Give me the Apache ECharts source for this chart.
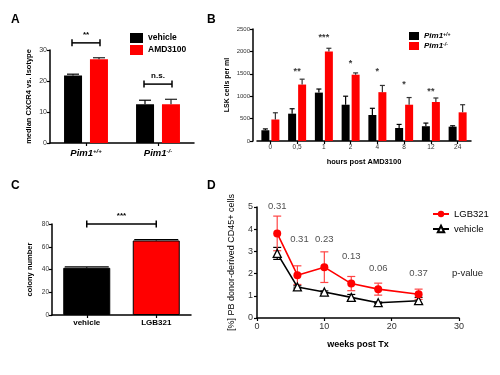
<!DOCTYPE html>
<html>
<head>
<meta charset="utf-8">
<script src="https://cdn.jsdelivr.net/npm/echarts@6/dist/echarts.min.js"></script>
<style>
  html, body { margin: 0; padding: 0; background: #fff; }
  #main { width: 500px; height: 375px; }
</style>
</head>
<body>
<div id="main"></div>
<script>
// A: CXCR4 surface level
const genotypes = ['Pim1+/+', 'Pim1-/-'];
const aVehicle = [21.8, 12.5];
const aVehicleErr = [0.4, 1.3];
const aAmd = [27.0, 12.5];
const aAmdErr = [0.5, 1.6];
const aBracketY = [32.3, 19];
const aBracketText = ['**', 'n.s.'];

// B: LSK mobilisation
const hours = ['0', '0,5', '1', '2', '4', '8', '12', '24'];
const bWild = [240, 610, 1080, 810, 580, 290, 330, 320];
const bWildErr = [30, 110, 80, 190, 150, 80, 70, 20];
const bKo = [480, 1260, 2000, 1480, 1090, 810, 870, 640];
const bKoErr = [150, 120, 70, 40, 150, 160, 90, 170];
const bStars = ['', '**', '***', '*', '*', '*', '**', ''];
const bStarY = [0, 1560, 2300, 1730, 1540, 1250, 1110, 0];

// C: colonies
const treatments = ['vehicle', 'LGB321'];
const colonies = [41.5, 65.5];
const coloniesErr = [0.8, 0.8];

// D: donor chimerism
const weeks = [3, 6, 10, 14, 18, 24];
const dLgb = [3.81, 1.93, 2.29, 1.55, 1.30, 1.07];
const dLgbErr = [0.78, 0.42, 0.69, 0.32, 0.27, 0.23];
const dVeh = [2.91, 1.40, 1.17, 0.93, 0.69, 0.78];
const dVehErr = [0.27, 0.05, 0.05, 0.13, 0.03, 0.15];
const pValues = ['0.31', '0.31', '0.23', '0.13', '0.06', '0.37'];
const pX = [3, 6.3, 10, 14, 18, 24];
const pY = [5.05, 3.54, 3.54, 2.76, 2.23, 2.0];

const FONT = 'Liberation Sans, Arial, sans-serif';
const RED = '#ff0000';

const chart = echarts.init(document.getElementById('main'));

// upward (or both ways) error bar drawn beside the band centre
function errBars(offset, capW, color, both) {
  return function (params, api) {
    const x = api.value(0), y = api.value(1), e = api.value(2);
    const top = api.coord([x, y + e]);
    const bot = api.coord([x, both ? y - e : y]);
    const cx = top[0] + offset;
    const st = { stroke: color, lineWidth: 1.2 };
    const kids = [
      { type: 'line', shape: { x1: cx, y1: top[1], x2: cx, y2: bot[1] }, style: st },
      { type: 'line', shape: { x1: cx - capW / 2, y1: top[1], x2: cx + capW / 2, y2: top[1] }, style: st }
    ];
    if (both) {
      kids.push({ type: 'line', shape: { x1: cx - capW / 2, y1: bot[1], x2: cx + capW / 2, y2: bot[1] }, style: st });
    }
    return { type: 'group', children: kids };
  };
}

// significance bracket: data = [fromCategory, toCategory, y]
function bracket(offFrom, offTo, fontSize, texts) {
  return function (params, api) {
    const a = api.coord([api.value(0), api.value(2)]);
    const b = api.coord([api.value(1), api.value(2)]);
    const x1 = a[0] + offFrom, x2 = b[0] + offTo, y = a[1];
    const st = { stroke: '#000', lineWidth: 1.5 };
    return {
      type: 'group',
      children: [
        { type: 'line', shape: { x1: x1, y1: y, x2: x2, y2: y }, style: st },
        { type: 'line', shape: { x1: x1, y1: y - 3.5, x2: x1, y2: y + 3.5 }, style: st },
        { type: 'line', shape: { x1: x2, y1: y - 3.5, x2: x2, y2: y + 3.5 }, style: st },
        {
          type: 'text',
          style: {
            text: texts[params.dataIndex], x: (x1 + x2) / 2, y: y - 4,
            align: 'center', verticalAlign: 'bottom', textAlign: 'center', textVerticalAlign: 'bottom',
            font: 'bold ' + fontSize + 'px ' + FONT, fill: '#000'
          }
        }
      ]
    };
  };
}

function axisLine() {
  return { show: true, lineStyle: { color: '#000', width: 1.5 } };
}
function ticks(align) {
  return { show: true, length: 3, alignWithLabel: !!align, lineStyle: { color: '#000', width: 1.2 } };
}

const genoRich = {
  g: { fontWeight: 'bold', fontStyle: 'italic', fontSize: 9.5, color: '#000', fontFamily: FONT },
  s: { fontWeight: 'bold', fontStyle: 'italic', fontSize: 6, color: '#000', fontFamily: FONT, verticalAlign: 'top', lineHeight: 8 }
};
const genoFmt = v => '{g|' + v.slice(0, 4) + '}{s|' + v.slice(4) + '}';
const plain = v => String(v);

const option = {
  animation: false,
  textStyle: { fontFamily: FONT },
  grid: [
    { left: 50, top: 50, width: 144, height: 93 },
    { left: 257, top: 29, width: 214, height: 112 },
    { left: 52, top: 224, width: 139, height: 91 },
    { left: 257, top: 207, width: 202, height: 111 }
  ],
  legend: [
    {
      data: ['vehicle', 'AMD3100'], left: 130, top: 33, padding: 0, orient: 'vertical', icon: 'rect',
      itemWidth: 13, itemHeight: 10, itemGap: 2, selectedMode: false,
      textStyle: { fontWeight: 'bold', fontSize: 8.5, color: '#000' }
    },
    {
      data: ['Pim1+/+', 'Pim1-/-'], left: 409, top: 32, padding: 0, orient: 'vertical', icon: 'rect',
      itemWidth: 10, itemHeight: 8, itemGap: 2, selectedMode: false,
      formatter: genoFmt,
      textStyle: { rich: { g: Object.assign({}, genoRich.g, { fontSize: 8 }), s: Object.assign({}, genoRich.s, { fontSize: 5 }) } }
    },
    {
      data: ['LGB321', 'vehicle '], left: 432, top: 209, padding: 0, orient: 'vertical',
      itemWidth: 16, itemHeight: 8, itemGap: 5, itemTextGap: 5, selectedMode: false,
      formatter: n => n.trim(),
      textStyle: { fontSize: 9.5, color: '#000' }
    }
  ],
  xAxis: [
    {
      type: 'category', gridIndex: 0, data: genotypes,
      axisLine: axisLine(), axisTick: ticks(true),
      axisLabel: { margin: 5, interval: 0, formatter: genoFmt, rich: genoRich }
    },
    {
      type: 'category', gridIndex: 1, data: hours,
      axisLine: axisLine(), axisTick: ticks(true),
      axisLabel: { margin: 3, interval: 0, fontSize: 6.5, color: '#333' },
      name: 'hours post AMD3100', nameLocation: 'middle', nameGap: 17,
      nameTextStyle: { fontWeight: 'bold', fontSize: 7.5, color: '#000' }
    },
    {
      type: 'category', gridIndex: 2, data: treatments,
      axisLine: axisLine(), axisTick: ticks(true),
      axisLabel: { margin: 4, interval: 0, fontSize: 8, fontWeight: 'bold', color: '#000' }
    },
    {
      type: 'value', gridIndex: 3, min: 0, max: 30, interval: 10,
      splitLine: { show: false }, axisLine: axisLine(), axisTick: ticks(),
      axisLabel: { margin: 4, fontSize: 9, color: '#333', formatter: plain },
      name: 'weeks post Tx', nameLocation: 'middle', nameGap: 22,
      nameTextStyle: { fontWeight: 'bold', fontSize: 9, color: '#000' }
    }
  ],
  yAxis: [
    {
      type: 'value', gridIndex: 0, min: 0, max: 30, interval: 10,
      splitLine: { show: false }, axisLine: axisLine(), axisTick: ticks(),
      axisLabel: { margin: 3, fontSize: 7, color: '#333', formatter: plain },
      name: 'median CXCR4 vs. Isotype', nameLocation: 'middle', nameGap: 17,
      nameTextStyle: { fontWeight: 'bold', fontSize: 7.5, color: '#000' }
    },
    {
      type: 'value', gridIndex: 1, min: 0, max: 2500, interval: 500, offset: 4,
      splitLine: { show: false }, axisLine: axisLine(), axisTick: ticks(),
      axisLabel: { margin: 3, fontSize: 6, color: '#333', formatter: plain },
      name: 'LSK cells per ml', nameLocation: 'middle', nameGap: 22,
      nameTextStyle: { fontWeight: 'bold', fontSize: 7, color: '#000' }
    },
    {
      type: 'value', gridIndex: 2, min: 0, max: 80, interval: 20,
      splitLine: { show: false }, axisLine: axisLine(), axisTick: ticks(),
      axisLabel: { margin: 3, fontSize: 6.5, color: '#333', formatter: plain },
      name: 'colony number', nameLocation: 'middle', nameGap: 18,
      nameTextStyle: { fontWeight: 'bold', fontSize: 7.5, color: '#000' }
    },
    {
      type: 'value', gridIndex: 3, min: 0, max: 5, interval: 1,
      splitLine: { show: false }, axisLine: axisLine(), axisTick: ticks(),
      axisLabel: { margin: 4, fontSize: 9, color: '#333', formatter: plain },
      name: '[%] PB donor-derived CD45+ cells', nameLocation: 'middle', nameGap: 21,
      nameTextStyle: { fontSize: 9, color: '#000' }
    }
  ],
  series: [
    // A
    { name: 'vehicle', type: 'bar', xAxisIndex: 0, yAxisIndex: 0, data: aVehicle, barWidth: 18, barGap: '44%', itemStyle: { color: '#000' } },
    { name: 'AMD3100', type: 'bar', xAxisIndex: 0, yAxisIndex: 0, data: aAmd, barWidth: 18, itemStyle: { color: RED } },
    { type: 'custom', xAxisIndex: 0, yAxisIndex: 0, z: 5, renderItem: errBars(-13, 12, '#000', false),
      data: aVehicle.map((v, i) => [i, v, aVehicleErr[i]]) },
    { type: 'custom', xAxisIndex: 0, yAxisIndex: 0, z: 5, renderItem: errBars(13, 12, '#222', false),
      data: aAmd.map((v, i) => [i, v, aAmdErr[i]]) },
    { type: 'custom', xAxisIndex: 0, yAxisIndex: 0, z: 5, renderItem: bracket(-14, 14, 8, aBracketText),
      data: aBracketY.map((v, i) => [i, i, v]) },

    // B
    { name: 'Pim1+/+', type: 'bar', xAxisIndex: 1, yAxisIndex: 1, data: bWild, barWidth: 8, barGap: '25%', itemStyle: { color: '#000' } },
    { name: 'Pim1-/-', type: 'bar', xAxisIndex: 1, yAxisIndex: 1, data: bKo, barWidth: 8, itemStyle: { color: RED } },
    { type: 'custom', xAxisIndex: 1, yAxisIndex: 1, z: 5, renderItem: errBars(-5, 5, '#000', false),
      data: bWild.map((v, i) => [i, v, bWildErr[i]]) },
    { type: 'custom', xAxisIndex: 1, yAxisIndex: 1, z: 5, renderItem: errBars(5, 5, '#333', false),
      data: bKo.map((v, i) => [i, v, bKoErr[i]]) },
    { type: 'scatter', xAxisIndex: 1, yAxisIndex: 1, symbolSize: 0, silent: true,
      data: bStarY.map((v, i) => [i, v]),
      label: { show: true, position: 'inside', formatter: p => bStars[p.dataIndex], fontSize: 9, fontWeight: 'bold', color: '#000' } },

    // C
    { type: 'bar', xAxisIndex: 2, yAxisIndex: 2, barWidth: 47,
      data: colonies.map((v, i) => ({ value: v, itemStyle: { color: i === 0 ? '#000' : RED } })),
      itemStyle: { borderColor: '#000', borderWidth: 1 } },
    { type: 'custom', xAxisIndex: 2, yAxisIndex: 2, z: 5, renderItem: errBars(0, 44, '#000', false),
      data: colonies.map((v, i) => [i, v, coloniesErr[i]]) },
    { type: 'custom', xAxisIndex: 2, yAxisIndex: 2, z: 5, renderItem: bracket(0, 0, 8, ['***']),
      data: [[0, 1, 80]] },

    // D
    { name: 'LGB321', type: 'line', xAxisIndex: 3, yAxisIndex: 3, z: 4,
      data: weeks.map((w, i) => [w, dLgb[i]]), symbol: 'circle', symbolSize: 8,
      lineStyle: { color: RED, width: 1.6 }, itemStyle: { color: RED } },
    { name: 'vehicle ', type: 'line', xAxisIndex: 3, yAxisIndex: 3, z: 3,
      data: weeks.map((w, i) => [w, dVeh[i]]), symbol: 'triangle', symbolSize: 8,
      lineStyle: { color: '#000', width: 1.6 }, itemStyle: { color: '#fff', borderColor: '#000', borderWidth: 1.3 } },
    { type: 'custom', xAxisIndex: 3, yAxisIndex: 3, z: 3, renderItem: errBars(0, 8, '#f44', true),
      data: weeks.map((w, i) => [w, dLgb[i], dLgbErr[i]]) },
    { type: 'custom', xAxisIndex: 3, yAxisIndex: 3, z: 2, renderItem: errBars(0, 8, '#000', true),
      data: weeks.map((w, i) => [w, dVeh[i], dVehErr[i]]) },
    { type: 'scatter', xAxisIndex: 3, yAxisIndex: 3, symbolSize: 0, silent: true, clip: false,
      data: pX.map((x, i) => [x, pY[i]]),
      label: { show: true, position: 'inside', formatter: p => pValues[p.dataIndex], fontSize: 9.5, color: '#222' } }
  ],
  graphic: [
    { type: 'text', left: 11, top: 14, style: { text: 'A', font: 'bold 12px ' + FONT, fill: '#000' } },
    { type: 'text', left: 207, top: 14, style: { text: 'B', font: 'bold 12px ' + FONT, fill: '#000' } },
    { type: 'text', left: 11, top: 180, style: { text: 'C', font: 'bold 12px ' + FONT, fill: '#000' } },
    { type: 'text', left: 207, top: 180, style: { text: 'D', font: 'bold 12px ' + FONT, fill: '#000' } },
    { type: 'text', left: 452, top: 268, style: { text: 'p-value', font: '9.5px ' + FONT, fill: '#222' } }
  ]
};

chart.setOption(option);
</script>
</body>
</html>
